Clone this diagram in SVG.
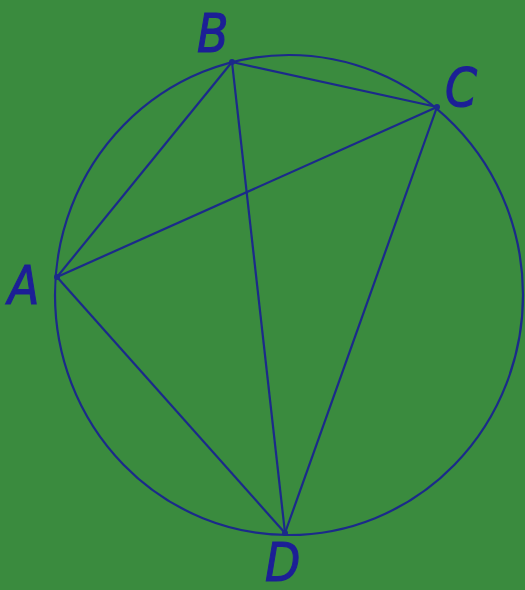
<svg xmlns="http://www.w3.org/2000/svg" width="525" height="590" viewBox="0 0 525 590">
<style>
.ln{stroke:#1b2a8a;stroke-width:2.2;fill:none}
.lb{font-family:"DejaVu Sans",sans-serif;font-style:oblique;font-size:54px;fill:#1c1f96;stroke:#1c1f96;stroke-width:1.2}
.pt{fill:#1b2a8a}
</style>
<rect width="525" height="590" fill="#3a8b3e"/>
<g id="circle"><ellipse class="ln" cx="289" cy="295" rx="234" ry="240"/></g>
<g id="connectors">
<line class="ln" x1="57" y1="277" x2="232" y2="62"/>
<line class="ln" x1="232" y1="62" x2="437" y2="107"/>
<line class="ln" x1="57" y1="277" x2="437" y2="107"/>
<line class="ln" x1="57" y1="277" x2="285" y2="533"/>
<line class="ln" x1="232" y1="62" x2="285" y2="533"/>
<line class="ln" x1="437" y1="107" x2="285" y2="533"/>
</g>
<g id="A"><circle class="pt" cx="57" cy="277" r="3"/><text class="lb" transform="translate(8,304) scale(0.85,1)">A</text></g>
<g id="B"><circle class="pt" cx="232" cy="62" r="3"/><text class="lb" transform="translate(197,52) scale(0.85,1)">B</text></g>
<g id="C"><circle class="pt" cx="437" cy="107" r="3"/><text class="lb" transform="translate(445,106) scale(0.85,1)">C</text></g>
<g id="D"><circle class="pt" cx="285" cy="533" r="3"/><text class="lb" transform="translate(265,581) scale(0.85,1)">D</text></g>
</svg>
